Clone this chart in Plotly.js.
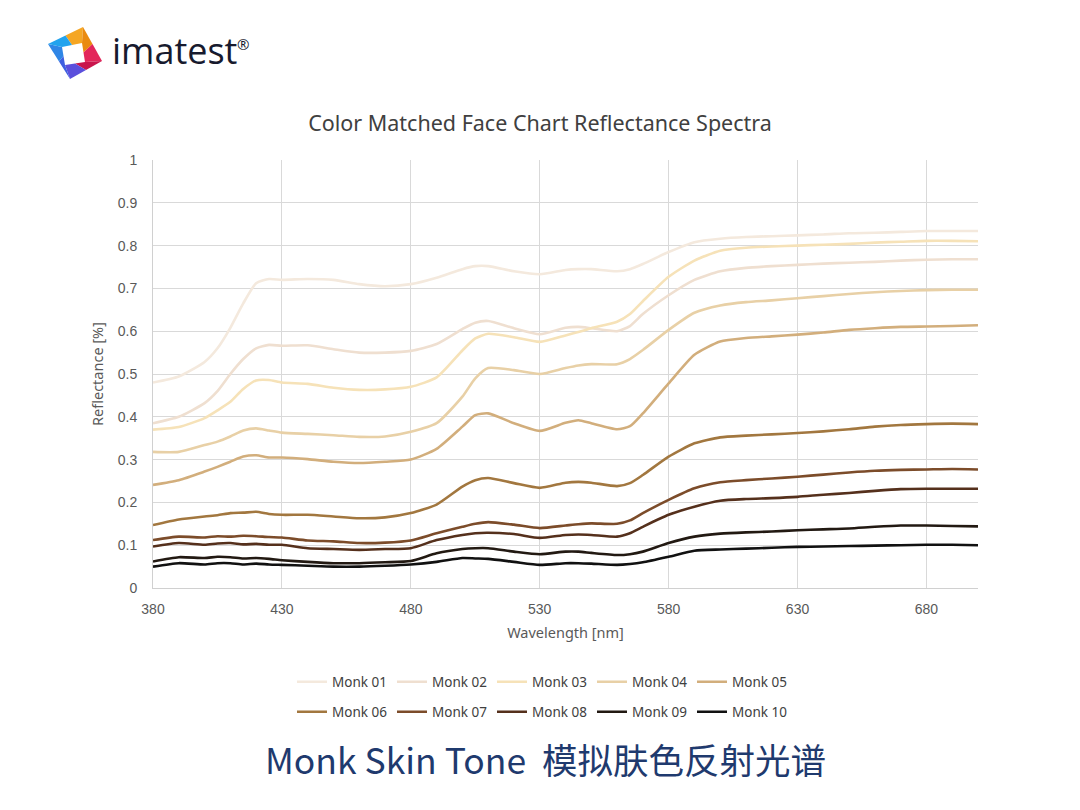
<!DOCTYPE html>
<html>
<head>
<meta charset="utf-8">
<script src="https://cdn.plot.ly/plotly-3.0.1.min.js"></script>
<style>html,body{margin:0;padding:0;background:#fff;}#chart{width:1080px;height:810px;}</style>
</head>
<body>
<div id="chart"></div>
<script>
// Wavelength grid (nm)
const wavelength = [380,390,400,405,410,415,420,425,430,440,450,460,470,480,490,500,505,510,520,530,540,545,550,560,565,570,580,590,600,610,620,630,640,650,660,670,680,690,700];

const seriesNames = ["Monk 01","Monk 02","Monk 03","Monk 04","Monk 05","Monk 06","Monk 07","Monk 08","Monk 09","Monk 10"];

const monk01 = [0.480,0.494,0.528,0.560,0.608,0.665,0.712,0.722,0.720,0.722,0.720,0.710,0.705,0.710,0.725,0.745,0.752,0.752,0.740,0.733,0.743,0.745,0.745,0.740,0.745,0.757,0.785,0.808,0.816,0.820,0.822,0.824,0.826,0.829,0.830,0.832,0.834,0.834,0.834];
const monk02 = [0.385,0.400,0.432,0.460,0.500,0.535,0.560,0.568,0.566,0.567,0.558,0.550,0.550,0.554,0.570,0.605,0.620,0.624,0.607,0.593,0.608,0.610,0.607,0.600,0.612,0.640,0.684,0.720,0.740,0.748,0.752,0.755,0.758,0.760,0.762,0.765,0.767,0.768,0.768];
const monk03 = [0.370,0.376,0.397,0.415,0.435,0.465,0.485,0.486,0.480,0.477,0.468,0.463,0.464,0.470,0.492,0.555,0.583,0.594,0.586,0.575,0.590,0.598,0.607,0.622,0.640,0.670,0.727,0.765,0.788,0.795,0.798,0.800,0.802,0.804,0.807,0.809,0.811,0.811,0.810];
const monk04 = [0.318,0.318,0.334,0.342,0.354,0.368,0.373,0.368,0.363,0.360,0.357,0.353,0.354,0.365,0.385,0.447,0.490,0.514,0.509,0.500,0.514,0.520,0.523,0.523,0.535,0.556,0.603,0.643,0.660,0.668,0.672,0.677,0.682,0.687,0.691,0.694,0.696,0.697,0.697];
const monk05 = [0.241,0.252,0.272,0.283,0.295,0.307,0.310,0.305,0.305,0.301,0.295,0.292,0.295,0.300,0.325,0.377,0.404,0.408,0.385,0.367,0.386,0.392,0.385,0.371,0.378,0.408,0.478,0.545,0.576,0.584,0.588,0.592,0.597,0.603,0.607,0.610,0.611,0.612,0.614];
const monk06 = [0.147,0.160,0.167,0.170,0.175,0.176,0.178,0.173,0.171,0.171,0.167,0.163,0.165,0.175,0.195,0.237,0.252,0.257,0.245,0.234,0.246,0.248,0.246,0.238,0.245,0.264,0.307,0.338,0.352,0.356,0.359,0.362,0.366,0.371,0.377,0.381,0.383,0.384,0.383];
const monk07 = [0.112,0.120,0.118,0.121,0.120,0.122,0.121,0.119,0.118,0.111,0.109,0.105,0.106,0.111,0.128,0.143,0.150,0.154,0.148,0.140,0.146,0.149,0.151,0.150,0.158,0.175,0.206,0.233,0.247,0.252,0.256,0.260,0.265,0.270,0.274,0.276,0.277,0.278,0.277];
const monk08 = [0.097,0.105,0.101,0.104,0.105,0.102,0.103,0.101,0.101,0.093,0.091,0.089,0.091,0.093,0.112,0.124,0.128,0.129,0.126,0.117,0.124,0.125,0.124,0.120,0.128,0.143,0.171,0.190,0.204,0.208,0.210,0.213,0.218,0.222,0.227,0.231,0.232,0.232,0.232];
const monk09 = [0.062,0.072,0.070,0.073,0.072,0.069,0.070,0.068,0.065,0.061,0.058,0.058,0.060,0.063,0.081,0.091,0.093,0.093,0.085,0.079,0.085,0.085,0.082,0.077,0.079,0.085,0.105,0.120,0.127,0.130,0.132,0.135,0.137,0.139,0.143,0.146,0.146,0.145,0.144];
const monk10 = [0.050,0.058,0.055,0.058,0.058,0.055,0.057,0.055,0.054,0.052,0.050,0.050,0.052,0.055,0.061,0.070,0.069,0.068,0.061,0.054,0.058,0.058,0.057,0.054,0.056,0.060,0.073,0.087,0.090,0.092,0.094,0.096,0.097,0.098,0.099,0.100,0.101,0.101,0.100];

const seriesValues = [monk01,monk02,monk03,monk04,monk05,monk06,monk07,monk08,monk09,monk10];
const seriesColors = ["#f4e9dd","#efdfd0","#f6e2b8","#e8d0a6","#d2ae7c","#a2773f","#7c4c2a","#55301c","#221912","#111111"];

const xTickVals = [380,430,480,530,580,630,680];

const traces = seriesNames.map((name, i) => ({
  type: 'scatter',
  mode: 'lines',
  name: name,
  x: wavelength,
  y: seriesValues[i],
  line: {color: seriesColors[i], width: 2.6, shape: 'spline', smoothing: 0.6},
  legend: i < 5 ? 'legend' : 'legend2',
  hoverinfo: 'x+y+name'
}));

// plot area in pixels: x 153..978, y 160..588
const L = 153, R = 978, T = 160, B = 588;
const px = v => (v - L) / (R - L);
const py = v => (B - v) / (B - T);

const logoSvg = `<svg xmlns="http://www.w3.org/2000/svg" width="60" height="60" viewBox="0 0 60 60">
<polygon points="19.5,10.5 37,2 36,18 26,20" fill="#f5a623"/>
<polygon points="37,2 46.5,19 37.5,27.5 36,18" fill="#ea8a10"/>
<polygon points="46.5,19 56,36 39,37 37.5,27.5" fill="#e3265a"/>
<polygon points="56,36 40,45 29,38.5 39,37" fill="#c9154c"/>
<polygon points="40,45 24,54 19,40 29,38.5" fill="#5b4fdc"/>
<polygon points="24,54 13,36.5 17.5,31 19,40" fill="#3f5fe0"/>
<polygon points="13,36.5 2,19 16,22 17.5,31" fill="#2f86e6"/>
<polygon points="2,19 19.5,10.5 26,20 16,22" fill="#22a3ee"/>
</svg>`;
const logoUri = 'data:image/svg+xml;base64,' + btoa(logoSvg);

const fontFam = '"Noto Sans", "Open Sans", Arial, sans-serif';
const tickFam = '"Liberation Sans", Arial, sans-serif';

const legendCommon = {
  orientation: 'h', xref: 'paper', yref: 'paper',
  xanchor: 'center', yanchor: 'middle',
  entrywidth: 55, entrywidthmode: 'pixels',
  font: {family: fontFam, size: 13.5, color: '#404040'}, bgcolor: 'rgba(0,0,0,0)', itemwidth: 30
};

const layout = {
  width: 1080,
  height: 810,
  margin: {l: L, r: 1080 - R, t: T, b: 810 - B},
  paper_bgcolor: '#ffffff',
  plot_bgcolor: '#ffffff',
  font: {family: fontFam, color: '#595959', size: 13},
  title: {
    text: 'Color Matched Face Chart Reflectance Spectra',
    x: 0.5, xref: 'container', xanchor: 'center',
    y: 1 - 123 / 810, yref: 'container', yanchor: 'middle',
    font: {family: fontFam, size: 21.5, color: '#404040'}
  },
  xaxis: {
    range: [380, 700],
    tickvals: xTickVals,
    showgrid: true, gridcolor: '#d9d9d9', gridwidth: 1,
    showline: true, linecolor: '#d0d0d0', linewidth: 1,
    zeroline: false, ticks: '',
    ticklabelstandoff: 8,
    tickfont: {family: tickFam, size: 14, color: '#595959'},
    title: {text: 'Wavelength [nm]', standoff: 12, font: {family: fontFam, size: 14.5, color: '#595959'}}
  },
  yaxis: {
    range: [0, 1],
    dtick: 0.1, tick0: 0,
    showgrid: true, gridcolor: '#d9d9d9', gridwidth: 1,
    showline: true, linecolor: '#d0d0d0', linewidth: 1,
    zeroline: false, ticks: '',
    ticklabelstandoff: 12,
    tickfont: {family: tickFam, size: 14, color: '#595959'},
    title: {text: 'Reflectance [%]', standoff: 10, font: {family: fontFam, size: 14.5, color: '#595959'}}
  },
  showlegend: true,
  legend: Object.assign({}, legendCommon, {x: px(542), y: py(682)}),
  legend2: Object.assign({}, legendCommon, {x: px(542), y: py(712)}),
  images: [{
    source: logoUri, xref: 'paper', yref: 'paper',
    x: px(46), y: py(25), sizex: 60 / (R - L), sizey: 60 / (B - T),
    xanchor: 'left', yanchor: 'top', sizing: 'stretch', layer: 'above'
  }],
  annotations: [
    {text: 'imatest', xref: 'paper', yref: 'paper', x: px(110), y: py(50), xanchor: 'left', yanchor: 'middle',
     showarrow: false, font: {family: '"Open Sans", "Noto Sans", sans-serif', size: 36, color: '#171a2e'}},
    {text: '®', xref: 'paper', yref: 'paper', x: px(235), y: py(44), xanchor: 'left', yanchor: 'middle',
     showarrow: false, font: {family: '"Open Sans", sans-serif', size: 15, color: '#171a2e'}},
    {text: 'Monk Skin Tone  模拟肤色反射光谱', xref: 'paper', yref: 'paper', x: px(545), y: py(758),
     xanchor: 'center', yanchor: 'middle', showarrow: false,
     font: {family: '"Noto Sans CJK SC", "Noto Sans", sans-serif', size: 35.5, color: '#1f3a6e'}}
  ]
};

Plotly.newPlot('chart', traces, layout, {displayModeBar: false, staticPlot: true});
</script>
</body>
</html>
